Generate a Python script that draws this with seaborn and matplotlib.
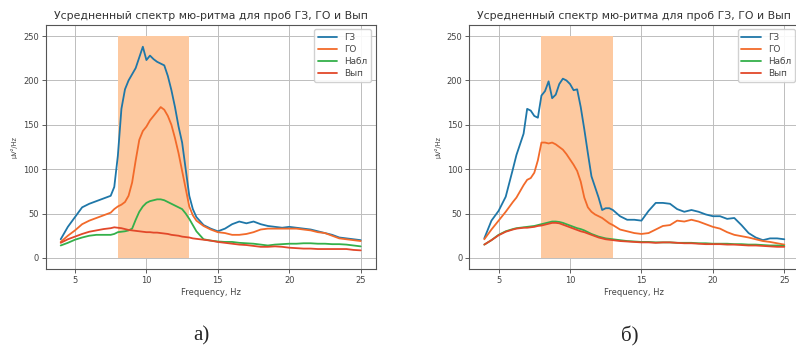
import numpy as np
import pandas as pd
import seaborn as sns
import matplotlib
matplotlib.use("Agg")
import matplotlib.pyplot as plt

# ---------------- data ----------------
title = "Усредненный спектр мю-ритма для проб ГЗ, ГО и Вып"
series_names = ["ГЗ", "ГО", "Набл", "Вып"]
band = [8, 13]
band_top = 250

freq_a = [4, 4.5, 5, 5.5, 6, 6.5, 7, 7.5, 7.75, 8, 8.25, 8.5, 8.75, 9, 9.25, 9.5,
          9.75, 10, 10.25, 10.5, 10.75, 11, 11.25, 11.5, 11.75, 12, 12.25, 12.5,
          12.75, 13, 13.25, 13.5, 14, 14.5, 15, 15.5, 16, 16.5, 17, 17.5, 18, 18.5,
          19, 19.5, 20, 20.5, 21, 21.5, 22, 22.5, 23, 23.5, 24, 24.5, 25]
gz_a = [21, 35, 46, 57, 61, 64, 67, 70, 80, 115, 168, 190, 200, 207, 214, 226,
        238, 223, 228, 224, 221, 219, 217, 205, 189, 170, 148, 130,
        100, 70, 55, 46, 37, 33, 30, 33, 38, 41, 39, 41, 38, 36,
        35, 34, 35, 34, 33, 32, 30, 28, 26, 23, 22, 21, 20]
go_a = [18, 25, 31, 38, 42, 45, 48, 51, 55, 58, 60, 63, 70, 85, 110, 133,
        143, 148, 155, 160, 165, 170, 167, 160, 150, 135, 118, 98,
        78, 58, 48, 42, 36, 32, 29, 28, 26, 26, 27, 29, 32, 33,
        33, 33, 33, 33, 32, 31, 29, 28, 25, 22, 21, 20, 19]
nabl_a = [14, 17, 20.5, 23, 25, 26, 26, 26, 27, 29, 29.5, 30, 31, 33, 43, 52,
          58, 62, 64, 65, 66, 66, 65, 63, 61, 59, 57, 55,
          50, 44, 37, 30, 21, 19.5, 18.5, 18, 18, 17, 16.5, 16, 15, 14,
          15, 15.5, 16, 16, 16.5, 16.5, 16, 16, 15.5, 15.5, 15, 14, 13]
vyp_a = [17, 21, 24, 27, 29.5, 31, 32.5, 33.5, 34.5, 34, 33.5, 32.5, 31.5, 31, 30.5, 30,
         29.5, 29, 29, 28.5, 28.5, 28, 27.5, 27, 26, 25.5, 25, 24,
         23.5, 23, 22, 21.5, 20.5, 19.5, 18, 17, 16, 15, 14.5, 13.5, 12.5, 12.5,
         13, 12.5, 11.5, 11, 10.5, 10.5, 10, 10, 10, 10, 10, 9, 8.5]

freq_b = [4, 4.5, 5, 5.5, 6, 6.25, 6.5, 6.75, 7, 7.25, 7.5, 7.75, 8, 8.25, 8.5, 8.75,
          9, 9.25, 9.5, 9.75, 10, 10.25, 10.5, 10.75, 11, 11.25, 11.5, 11.75, 12,
          12.25, 12.5, 12.75, 13, 13.5, 14, 14.5, 15, 15.5, 16, 16.5, 17, 17.5, 18,
          18.5, 19, 19.5, 20, 20.5, 21, 21.5, 22, 22.5, 23, 23.5, 24, 24.5, 25]
gz_b = [22, 42, 53, 69, 100, 116, 128, 140, 168, 166, 160, 158, 183, 188, 199, 180,
        184, 196, 202, 200, 196, 189, 190, 170, 145, 118, 92, 80, 68,
        54, 56, 56, 54, 47, 43, 43, 42, 53, 62, 62, 61, 55, 52,
        54, 52, 49, 47, 47, 44, 45, 37, 28, 23, 20, 22, 22, 21]
go_b = [21, 32, 42, 52, 63, 68, 75, 82, 88, 90, 96, 110, 130, 130, 129, 130,
        128, 125, 122, 117, 111, 105, 98, 86, 68, 57, 52, 49, 47,
        45, 42, 39, 37, 32, 30, 28, 27, 28, 32, 36, 37, 42, 41,
        43, 41, 38, 35, 33, 29, 26, 24.5, 23, 21, 19, 18, 16.5, 15]
nabl_b = [15, 20, 26, 30, 32.5, 33.5, 34, 34.5, 35, 35.5, 36, 37, 38, 39, 40, 41,
          41, 40.5, 39.5, 38, 36.5, 35, 33.5, 32.5, 31, 29, 27, 25.5, 24,
          23, 22, 21.5, 21, 20, 19, 18.5, 18, 18, 17.5, 17.5, 17.5, 17, 17,
          17, 16.5, 16.5, 16, 16, 16, 15.5, 15.5, 15, 15, 14.5, 14, 14, 13.5]
vyp_b = [15, 20, 25.5, 29.5, 32, 33, 33.5, 34, 34, 34.5, 35, 36, 36.5, 37.5, 38.5, 39.5,
         39.5, 39, 37.5, 36, 34.5, 33, 31.5, 30, 29, 27.5, 26, 24.5, 23,
         22, 21, 20.5, 20, 19, 18.5, 18, 17.5, 17.5, 17, 17.5, 17.5, 17, 16.5,
         16.5, 16, 15.5, 15.5, 15.5, 15, 15, 14.5, 14, 14, 13.5, 13, 12.5, 12.5]

panel_labels = ["а)", "б)"]
xticks = [5, 10, 15, 20, 25]
yticks = [0, 50, 100, 150, 200, 250]

# ---------------- style ----------------
sns.set_style("whitegrid", {
    "axes.edgecolor": "#555555",
    "grid.color": "#bdbdbd",
    "xtick.bottom": True,
    "ytick.left": True,
    "xtick.color": "#444444",
    "ytick.color": "#444444",
})
plt.rcParams["font.family"] = ["DejaVu Sans"]

colors = ["#1f77a8", "#f26a2a", "#34b04a", "#e2482a"]

fig = plt.figure(figsize=(7.96, 3.46), dpi=100)
W, H = 796, 346
axes_px = [(45.7, 25, 375.7, 269), (469.3, 25, 799.3, 269)]
label_x = [201, 630]
panels = [
    (freq_a, [gz_a, go_a, nabl_a, vyp_a]),
    (freq_b, [gz_b, go_b, nabl_b, vyp_b]),
]

for i, ((x0, y0, x1, y1), (freq, vals)) in enumerate(zip(axes_px, panels)):
    ax = fig.add_axes([x0 / W, 1 - y1 / H, (x1 - x0) / W, (y1 - y0) / H])
    ax.fill_between(band, 0, band_top, color="#fdc9a0", linewidth=0, zorder=1)
    for name, v, c in zip(series_names, vals, colors):
        sns.lineplot(x=freq, y=v, ax=ax, color=c, label=name, linewidth=1.3, zorder=3)
    ax.set_xticks(xticks)
    ax.set_yticks(yticks)
    ax.tick_params(labelsize=6, length=3, width=0.6, pad=2)
    ax.set_title(title, fontsize=7.8, color="#333333", pad=4)
    ax.set_xlabel("Frequency, Hz", fontsize=6, color="#444444", labelpad=2)
    ax.set_ylabel("µV²/Hz", fontsize=4.8, color="#444444", labelpad=4)
    for s in ax.spines.values():
        s.set_linewidth(0.8)
    ax.grid(True, linewidth=0.7)
    leg = ax.legend(loc="upper right", fontsize=6.4, frameon=True, handlelength=2.2,
                    borderpad=0.4, labelspacing=0.35, framealpha=0.9)
    leg.get_frame().set_edgecolor("#cccccc")
    for t in leg.get_texts():
        t.set_color("#444444")
    fig.text(label_x[i] / W, 1 - 336 / H, panel_labels[i],
             ha="center", va="center", fontsize=15, family="Liberation Serif")

fig.savefig("out.png", dpi=100)
